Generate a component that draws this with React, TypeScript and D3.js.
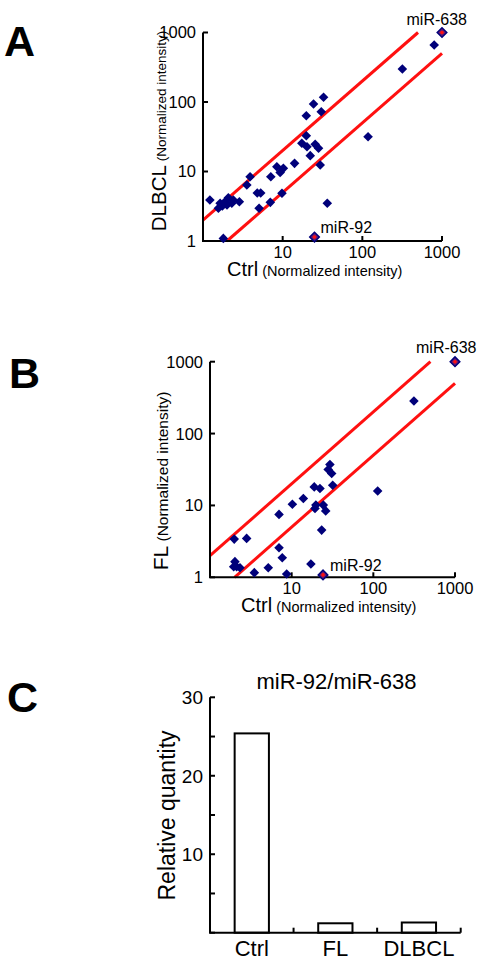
import React from "react";
import * as d3 from "d3";

// ---------- data ----------
const logTicks = [1, 10, 100, 1000];
const refFactors = [2, 0.5];

const dlbclPoints: [number, number][] = [
  [32.6, 117], [24.4, 93.6], [19.8, 63.5], [30.5, 72.5], [19.8, 32.7], [17.4, 25.5],
  [20.2, 22.7], [25.6, 24.6], [28.2, 21.6], [22.2, 16.9], [29.6, 12.4], [36.3, 3.49],
  [14.1, 13.1], [10.2, 11.1], [8.45, 11.7], [9.3, 9.7], [7.1, 8.4], [3.9, 8.4],
  [3.55, 6.4], [4.8, 4.9], [5.3, 4.9], [9.8, 4.86], [7.0, 3.6], [5.06, 2.96],
  [1.22, 3.89], [1.64, 3.49], [1.56, 2.96], [1.89, 3.68], [2.08, 4.2], [2.3, 3.49],
  [2.4, 3.89], [2.86, 3.68], [1.75, 3.2], [2.0, 3.3], [1.8, 1.09], [118, 31.7],
  [318, 298], [798, 661],
];
const dlbclHighlights: { name: string; ctrl: number; value: number }[] = [
  { name: "miR-92", ctrl: 25.1, value: 1.14 },
  { name: "miR-638", ctrl: 1000, value: 1000 },
];

const flPoints: [number, number][] = [
  [29.4, 37.1], [28.0, 31.6], [30.9, 27.8], [31.8, 19.1], [18.9, 18.1], [22.2, 17.2],
  [13.9, 12.5], [10.2, 10.4], [19.8, 10.1], [19.3, 9.1], [24.4, 10.1], [26.1, 8.4],
  [7.0, 7.5], [23.3, 4.54], [1.98, 3.4], [2.81, 3.48], [7.0, 2.58], [7.67, 1.87],
  [2.02, 1.65], [2.12, 1.4], [2.33, 1.36], [1.95, 1.4], [3.49, 1.16], [5.17, 1.36],
  [8.69, 1.11], [17.2, 1.53], [314, 284], [113, 15.9],
];
const flHighlights: { name: string; ctrl: number; value: number }[] = [
  { name: "miR-92", ctrl: 24.2, value: 1.08 },
  { name: "miR-638", ctrl: 1000, value: 1000 },
];

const barCategories = ["Ctrl", "FL", "DLBCL"];
const barValues = [25.4, 1.2, 1.3];
const barTicks = [0, 5, 10, 15, 20, 25, 30];
const barTickLabels = ["", "", "10", "", "20", "", "30"];

// ---------- style ----------
const FONT = "'Liberation Sans', Arial, Helvetica, sans-serif";
const NAVY = "#00007a";
const RED = "#ff1010";

const diamond = d3.symbol().type(d3.symbolSquare).size(46)();

type ScatterProps = {
  x0: number; x1: number; y0: number; y1: number;
  points: [number, number][];
  highlights: { name: string; ctrl: number; value: number }[];
  yName: string;
  yNameSize: number;
  yParenSize: number;
  yLabelX: number;
  yLabelCenter: number;
  xLabelX: number;
  xLabelY: number;
  labels: { [k: string]: [number, number] };
  tickLabelGap: number;
};

function Scatter(p: ScatterProps) {
  const x = d3.scaleLog().domain([1, 1000]).range([p.x0, p.x1]);
  const y = d3.scaleLog().domain([1, 1000]).range([p.y0, p.y1]);
  const line = d3
    .line<[number, number]>()
    .x((d) => x(d[0]))
    .y((d) => y(d[1]));
  return (
    <g>
      {refFactors.map((f) => {
        const xs = f > 1 ? [1, 1000 / f] : [1 / f, 1000];
        const pts: [number, number][] = xs.map((v) => [v, v * f]);
        return <path key={f} d={line(pts) || ""} stroke={RED} strokeWidth={3} fill="none" />;
      })}
      {/* axes */}
      <line x1={p.x0} x2={p.x0} y1={p.y0} y2={p.y1} stroke="#000" strokeWidth={2} />
      <line x1={p.x0 - 1} x2={p.x1} y1={p.y0} y2={p.y0} stroke="#000" strokeWidth={2} />
      {logTicks.map((t) => (
        <g key={"y" + t}>
          <line x1={p.x0} x2={p.x0 + 5} y1={y(t)} y2={y(t)} stroke="#000" strokeWidth={2} />
          <text x={p.x0 - p.tickLabelGap} y={y(t)} dy="0.36em" textAnchor="end" fontSize={16.5} fontFamily={FONT}>
            {t}
          </text>
        </g>
      ))}
      {logTicks.slice(1).map((t) => (
        <g key={"x" + t}>
          <line x1={x(t)} x2={x(t)} y1={p.y0} y2={p.y0 - 5} stroke="#000" strokeWidth={2} />
          <text x={x(t)} y={p.y0 + 17} textAnchor="middle" fontSize={16.5} fontFamily={FONT}>
            {t}
          </text>
        </g>
      ))}
      {p.points.map((d, i) => (
        <path key={i} d={diamond} transform={`translate(${x(d[0])},${y(d[1])}) rotate(45)`} fill={NAVY} />
      ))}
      {p.highlights.map((h) => (
        <g key={h.name}>
          <path d={diamond} transform={`translate(${x(h.ctrl)},${y(h.value)}) rotate(45)`} fill="#6a1a70" stroke={NAVY} strokeWidth={1.5} />
          <circle cx={x(h.ctrl)} cy={y(h.value)} r={1.8} fill={RED} />
          <text x={p.labels[h.name][0]} y={p.labels[h.name][1]} fontSize={16} fontFamily={FONT}>
            {h.name}
          </text>
        </g>
      ))}
      <text
        transform={`translate(${p.yLabelX},${p.yLabelCenter}) rotate(-90)`}
        textAnchor="middle"
        fontFamily={FONT}
      >
        <tspan fontSize={p.yNameSize}>{p.yName}</tspan>
        <tspan fontSize={p.yParenSize}> (Normalized intensity)</tspan>
      </text>
      <text x={p.xLabelX} y={p.xLabelY} fontFamily={FONT}>
        <tspan fontSize={20}>Ctrl</tspan>
        <tspan fontSize={14.5}> (Normalized intensity)</tspan>
      </text>
    </g>
  );
}

function Bars() {
  const x0 = 210, x1 = 460.7, y0 = 932.7, y1 = 697.3;
  const x = d3.scaleBand().domain(barCategories).range([x0, x1]).paddingInner(0.59).paddingOuter(0.295);
  const y = d3.scaleLinear().domain([0, 30]).range([y0, y1]);
  const step = x.step();
  return (
    <g>
      <text x={336.5} y={689} textAnchor="middle" fontSize={22} fontFamily={FONT}>
        miR-92/miR-638
      </text>
      {barCategories.map((c, i) => (
        <rect
          key={c}
          x={x(c)}
          y={y(barValues[i])}
          width={x.bandwidth()}
          height={y0 - y(barValues[i])}
          fill="#fff"
          stroke="#000"
          strokeWidth={2}
        />
      ))}
      <line x1={x0} x2={x0} y1={y0} y2={y1} stroke="#000" strokeWidth={2} />
      <line x1={x0 - 1} x2={x1} y1={y0} y2={y0} stroke="#000" strokeWidth={2} />
      {barTicks.map((t, i) => (
        <g key={t}>
          <line x1={x0} x2={x0 + 5} y1={y(t)} y2={y(t)} stroke="#000" strokeWidth={2} />
          <text x={x0 - 7} y={y(t)} dy="0.36em" textAnchor="end" fontSize={19} fontFamily={FONT}>
            {barTickLabels[i]}
          </text>
        </g>
      ))}
      {barCategories.map((c, i) => (
        <g key={"t" + c}>
          <line x1={x0 + step * (i + 1)} x2={x0 + step * (i + 1)} y1={y0} y2={y0 - 5} stroke="#000" strokeWidth={2} />
          <text x={(x(c) || 0) + x.bandwidth() / 2} y={956} textAnchor="middle" fontSize={22} fontFamily={FONT}>
            {c}
          </text>
        </g>
      ))}
      <text transform={`translate(174.5,815.5) rotate(-90)`} textAnchor="middle" fontSize={23} fontFamily={FONT}>
        Relative quantity
      </text>
    </g>
  );
}

export default function App() {
  return (
    <svg
      width={488}
      height={963}
      style={{ position: "absolute", left: 0, top: 0, background: "#fff" }}
    >
      <rect width={488} height={963} fill="#fff" />
      <text x={4} y={56} fontSize={43} fontWeight="bold" fontFamily={FONT}>A</text>
      <text x={9} y={388} fontSize={43} fontWeight="bold" fontFamily={FONT}>B</text>
      <text x={7} y={712} fontSize={43} fontWeight="bold" fontFamily={FONT}>C</text>
      <Scatter
        x0={203} x1={442} y0={241} y1={32.5}
        points={dlbclPoints}
        highlights={dlbclHighlights}
        yName="DLBCL"
        yNameSize={20.5}
        yParenSize={13.5}
        yLabelX={166}
        yLabelCenter={131}
        xLabelX={227}
        xLabelY={276}
        labels={{ "miR-92": [320.5, 233], "miR-638": [406.5, 25] }}
        tickLabelGap={7}
      />
      <Scatter
        x0={210} x1={455} y0={577.3} y1={361.7}
        points={flPoints}
        highlights={flHighlights}
        yName="FL"
        yNameSize={21}
        yParenSize={15.5}
        yLabelX={168}
        yLabelCenter={481}
        xLabelX={241}
        xLabelY={612}
        labels={{ "miR-92": [330, 571], "miR-638": [416, 352.5] }}
        tickLabelGap={7}
      />
      <Bars />
    </svg>
  );
}
